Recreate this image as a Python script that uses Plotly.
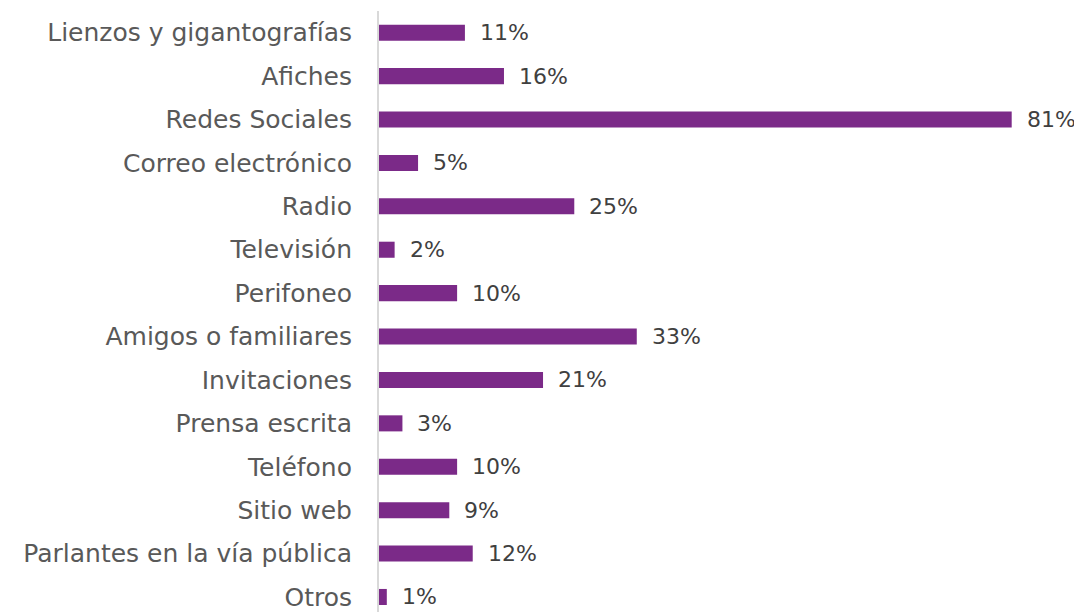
import plotly.graph_objects as go

categories = ["Lienzos y gigantografías", "Afiches", "Redes Sociales", "Correo electrónico",
              "Radio", "Televisión", "Perifoneo", "Amigos o familiares", "Invitaciones",
              "Prensa escrita", "Teléfono", "Sitio web", "Parlantes en la vía pública", "Otros"]
values = [11, 16, 81, 5, 25, 2, 10, 33, 21, 3, 10, 9, 12, 1]

BAR = "#7B2A88"
TXT = "#404040"
LBL = "#595959"
FONT = "DejaVu Sans"

fig = go.Figure(go.Bar(
    x=values, y=categories, orientation="h",
    marker=dict(color=BAR, line=dict(width=0)),
    hoverinfo="skip",
))

for c, v in zip(categories, values):
    fig.add_annotation(x=v, y=c, text=f"{v}%", showarrow=False, xanchor="left",
                       xshift=13, font=dict(family=FONT, size=22, color=TXT))

fig.update_layout(
    width=1082, height=612,
    margin=dict(l=371, r=8, t=3, b=8),
    plot_bgcolor="white", paper_bgcolor="white",
    bargap=0.63, showlegend=False,
    font=dict(family=FONT, size=22, color=TXT),
    xaxis=dict(range=[0, 90], visible=False, showgrid=False, zeroline=False),
    yaxis=dict(range=[13.346, -0.5], type="category", showline=True, linecolor="#d9d9d9",
               linewidth=2, showgrid=False, zeroline=False, ticks="",
               ticklabelstandoff=20, tickfont=dict(family=FONT, size=25, color=LBL)),
)

fig.write_html("out.html")
